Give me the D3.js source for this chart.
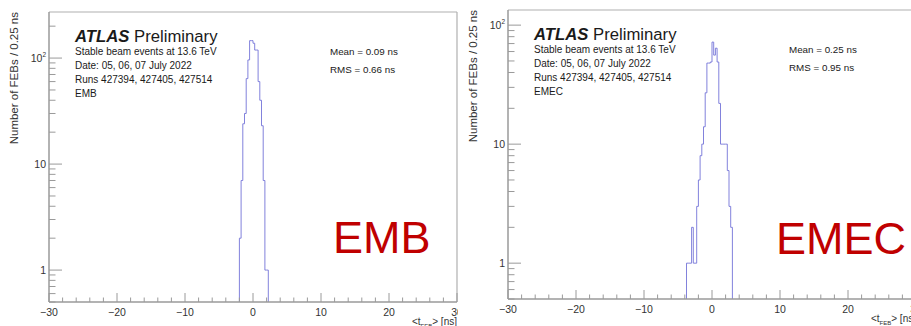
<!DOCTYPE html>
<html><head><meta charset="utf-8">
<script src="https://cdn.jsdelivr.net/npm/d3@7"></script>
<style>
body{margin:0;background:#fff;}
svg{display:block;font-family:"Liberation Sans",Arial,Helvetica,sans-serif;}
</style>
</head><body>
<svg id="c" width="911" height="326"></svg>
<script>
// ---------------- data ----------------
const binWidth = 0.25;
const embBinStarts = [-2.0,-1.75,-1.5,-1.25,-1.0,-0.75,-0.5,-0.25,0.0,0.25,0.5,0.75,1.0,1.25,1.5,1.75,2.0];
const embCounts    = [2,7,24,30,64,96,146,146,138,119,119,60,40,23,7,1,1];
const emecBinStarts = [-3.75,-3.5,-3.25,-3.0,-2.75,-2.5,-2.25,-2.0,-1.75,-1.5,-1.25,-1.0,-0.75,-0.5,-0.25,0.0,0.25,0.5,0.75,1.0,1.25,1.5,1.75,2.0,2.25,2.5,2.75];
const emecCounts    = [1,1,1,2,1,1,3,5,8,10,14,27,48,48,49,72,56,64,49,22,10,10,10,10,6,3,2];
const panelNames = ["EMB","EMEC"];
const meanValues = ["0.09","0.25"];
const rmsValues  = ["0.66","0.95"];
const infoLines  = ["Stable beam events at 13.6 TeV","Date: 05, 06, 07 July 2022","Runs 427394, 427405, 427514"];
const xDomain = [-30,30];
const xMajorTicks = [-30,-20,-10,0,10,20,30];
const yMajorTicks = [1,10,100];
const yTickLabels = [["1",""],["10",""],["10","2"]];
const yAxisTitle = "Number of FEBs / 0.25 ns";

// ---------------- drawing ----------------
const svg = d3.select("#c");
svg.append("rect").attr("width",911).attr("height",326).attr("fill","#fff");

const panels = [
  {left:49, top:12, bottom:302, yMin:0.5, yMax:272, clipX:0, clipW:458, starts:embBinStarts, counts:embCounts, bigX:333, bigY:253},
  {left:508, top:10, bottom:299, yMin:0.5, yMax:134, clipX:461, clipW:450, starts:emecBinStarts, counts:emecCounts, bigX:776, bigY:254}
];

const axisCol = "#9a9a9a";
const textCol = "#1a1a1a";

panels.forEach((p, i) => {
  const id = "clip" + i;
  svg.append("clipPath").attr("id", id).append("rect")
     .attr("x", p.clipX).attr("y", 0).attr("width", p.clipW).attr("height", 326);
  const g = svg.append("g").attr("clip-path", `url(#${id})`);
  g.append("rect").attr("x", p.clipX).attr("y", 0).attr("width", p.clipW).attr("height", 326).attr("fill", "#fff");

  const x = d3.scaleLinear().domain(xDomain).range([p.left, p.left + 408]);
  const y = d3.scaleLog().domain([p.yMin, p.yMax]).range([p.bottom, p.top]);
  const right = x(xDomain[1]);

  // frame
  g.append("line").attr("x1", p.left).attr("x2", right).attr("y1", p.top).attr("y2", p.top)
    .attr("stroke", "#b0b0b0").attr("stroke-width", 1.2);
  g.append("line").attr("x1", right).attr("x2", right).attr("y1", p.top).attr("y2", p.bottom)
    .attr("stroke", "#b0b0b0").attr("stroke-width", 1.2);

  // histogram
  const pts = [];
  pts.push([p.starts[0], p.yMin]);
  p.starts.forEach((s, k) => { pts.push([s, p.counts[k]]); pts.push([s + binWidth, p.counts[k]]); });
  pts.push([p.starts[p.starts.length - 1] + binWidth, p.yMin]);
  const line = d3.line().x(d => x(d[0])).y(d => y(d[1]));
  g.append("path").attr("d", line(pts)).attr("fill", "none")
    .attr("stroke", "#7474d8").attr("stroke-width", 1).attr("stroke-opacity", 0.9);

  // y axis ticks (log)
  const yTicksAll = [];
  [0.1, 1, 10, 100].forEach(dec => { for (let m = 1; m <= 9; m++) { const v = dec * m; if (v >= p.yMin && v <= p.yMax) yTicksAll.push({v, major: m === 1}); } });
  g.selectAll(null).data(yTicksAll).enter().append("line")
    .attr("x1", p.left).attr("x2", d => p.left + (d.major ? 13 : 6.5))
    .attr("y1", d => y(d.v)).attr("y2", d => y(d.v))
    .attr("stroke", axisCol).attr("stroke-width", 1);
  // x ticks
  const xMinor = d3.range(xDomain[0], xDomain[1] + 0.001, 2);
  g.selectAll(null).data(xMinor).enter().append("line")
    .attr("x1", d => x(d)).attr("x2", d => x(d))
    .attr("y1", p.bottom).attr("y2", d => p.bottom - (d % 10 === 0 ? 9 : 4.5))
    .attr("stroke", axisCol).attr("stroke-width", 1);

  // axis lines
  g.append("line").attr("x1", p.left).attr("x2", p.left).attr("y1", p.top).attr("y2", p.bottom)
    .attr("stroke", axisCol).attr("stroke-width", 1.5);
  g.append("line").attr("x1", p.left).attr("x2", right).attr("y1", p.bottom).attr("y2", p.bottom)
    .attr("stroke", axisCol).attr("stroke-width", 1.5);

  // x tick labels
  g.selectAll(null).data(xMajorTicks).enter().append("text")
    .attr("x", d => x(d)).attr("y", p.bottom + 13.5)
    .attr("text-anchor", "middle").attr("font-size", 10.5).attr("fill", "#333")
    .text(d => d < 0 ? "\u2212" + Math.abs(d) : String(d));

  // y tick labels
  yMajorTicks.forEach((v, k) => {
    const [base, sup] = yTickLabels[k];
    const t = g.append("text").attr("x", p.left - 3).attr("y", y(v) + 3.8)
      .attr("text-anchor", "end").attr("font-size", 10.5).attr("fill", "#333");
    t.append("tspan").text(base);
    if (sup) t.append("tspan").attr("font-size", 6.5).attr("dy", -4.5).text(sup);
  });

  // y axis title
  g.append("text").attr("transform", `translate(${p.left - 31},${p.top}) rotate(-90)`)
    .attr("text-anchor", "end").attr("font-size", 11.5).attr("fill", "#333").text(yAxisTitle);

  // x axis title
  const xt = g.append("text").attr("x", right).attr("y", p.bottom + 23)
    .attr("text-anchor", "end").attr("font-size", 10).attr("fill", "#333");
  xt.append("tspan").text("<t");
  xt.append("tspan").attr("font-size", 6).attr("dy", 2.5).text("FEB");
  xt.append("tspan").attr("dy", -2.5).text("> [ns]");

  // ATLAS label
  const tx = p.left + 26;
  const at = g.append("text").attr("x", tx).attr("y", p.top + 29.5).attr("font-size", 16.7).attr("fill", textCol);
  at.append("tspan").attr("font-weight", "bold").attr("font-style", "italic").text("ATLAS");
  at.append("tspan").text(" Preliminary");
  infoLines.concat([panelNames[i]]).forEach((s, k) => {
    g.append("text").attr("x", tx).attr("y", p.top + 43 + k * 14.1)
      .attr("font-size", 10).attr("fill", textCol).text(s);
  });

  // stats
  g.append("text").attr("x", p.left + 281).attr("y", p.top + 43)
    .attr("font-size", 9.8).attr("fill", textCol).text(`Mean = ${meanValues[i]} ns`);
  g.append("text").attr("x", p.left + 281).attr("y", p.top + 61)
    .attr("font-size", 9.8).attr("fill", textCol).text(`RMS = ${rmsValues[i]} ns`);

  // big red label
  g.append("text").attr("x", p.bigX).attr("y", p.bigY)
    .attr("font-size", 45).attr("fill", "#c00000").text(panelNames[i]);
});
</script>
</body></html>
